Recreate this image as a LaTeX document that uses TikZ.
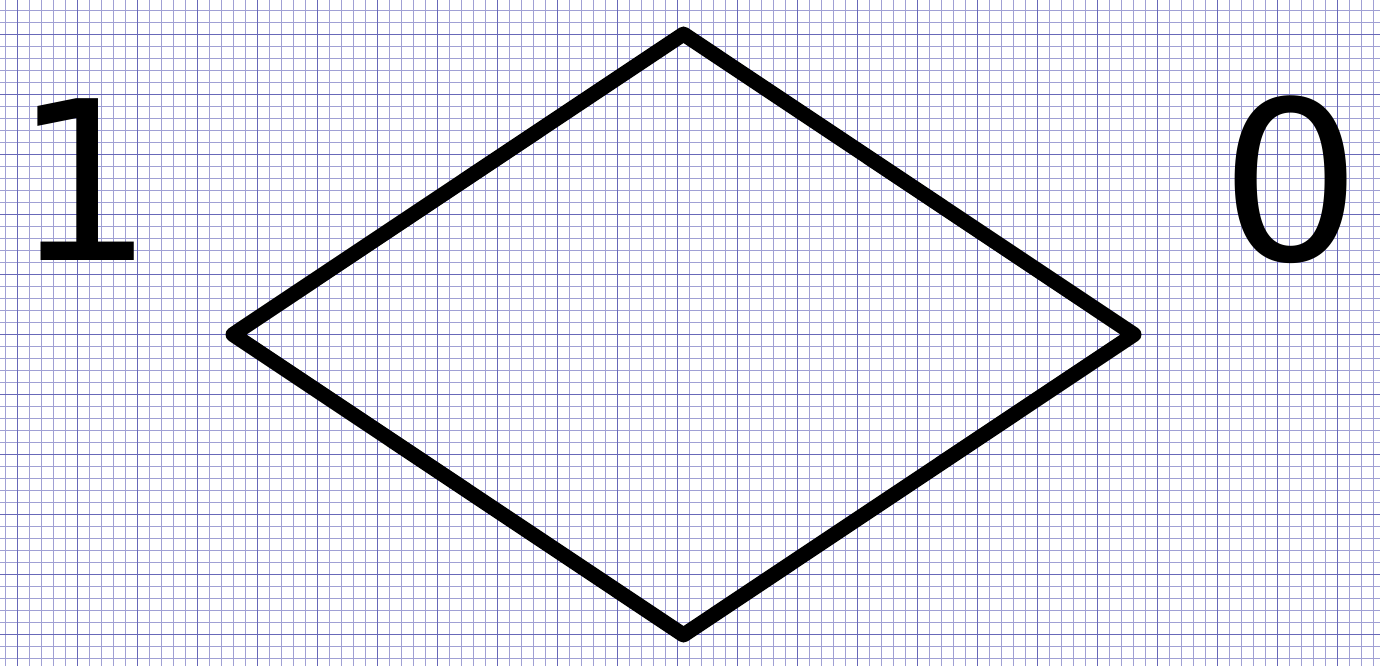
\documentclass[tikz,border=0pt]{standalone}
\usepackage{fontspec}
\newfontfamily\digitfont{DejaVu Sans}
\definecolor{gridminor}{RGB}{160,160,212}
\definecolor{gridmajor}{RGB}{104,104,184}
\begin{document}
\begin{tikzpicture}[x=0.5pt,y=-0.5pt,
  minorline/.style={draw=gridminor,line width=0.5pt},
  majorline/.style={draw=gridmajor,line width=0.6pt},
  shapeline/.style={draw=black,line width=7.5pt,line join=round,line cap=round},
  digit/.style={font=\digitfont\fontsize{111pt}{111pt}\selectfont,inner sep=0pt,anchor=base}]
\useasboundingbox[fill=white] (0,0) rectangle (1380,666);
% grid
\foreach \i in {0,...,114} {
  \pgfmathsetmacro{\xx}{5.3+12*\i}
  \draw[minorline] (\xx,0) -- (\xx,666);
}
\foreach \j in {0,...,55} {
  \pgfmathsetmacro{\yy}{10.3+12*\j}
  \draw[minorline] (0,\yy) -- (1380,\yy);
}
\foreach \i in {0,...,22} {
  \pgfmathsetmacro{\xx}{17.3+60*\i}
  \draw[majorline] (\xx,0) -- (\xx,666);
}
\foreach \j in {0,...,11} {
  \pgfmathsetmacro{\yy}{34.3+60*\j}
  \draw[majorline] (0,\yy) -- (1380,\yy);
}
% diamond
\coordinate (top) at (683.5,34);
\coordinate (right) at (1134,334.5);
\coordinate (bottom) at (683.5,635);
\coordinate (left) at (233,334.5);
\draw[shapeline] (top) -- (right) -- (bottom) -- (left) -- cycle;
% labels
\node[digit] (one) at (84,260) {1};
\node[digit] (zero) at (1291,260) {0};
\end{tikzpicture}
\end{document}
